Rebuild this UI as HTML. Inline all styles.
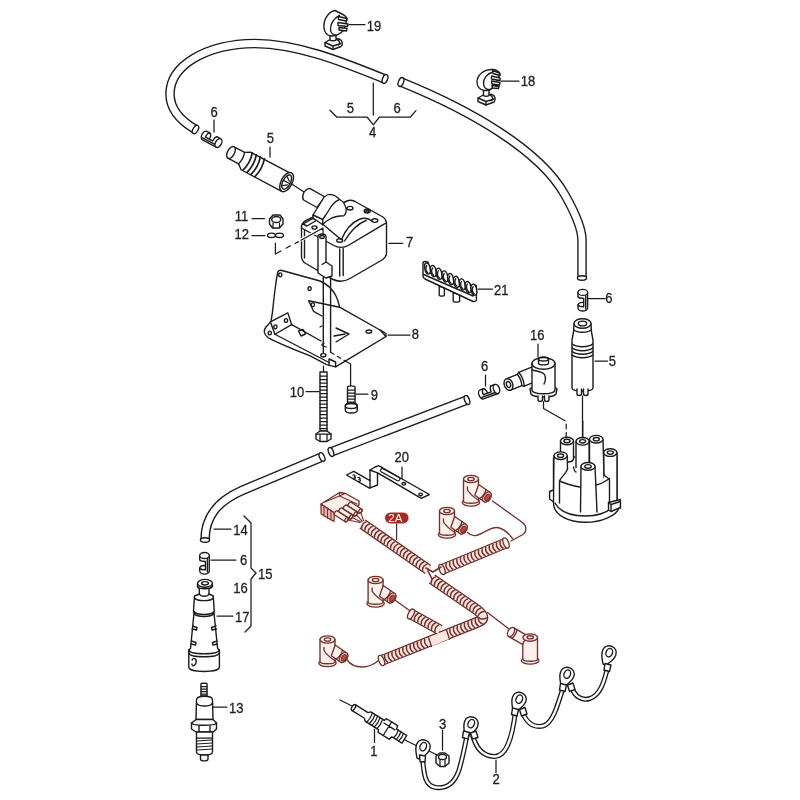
<!DOCTYPE html>
<html><head><meta charset="utf-8">
<style>
html,body{margin:0;padding:0;background:#fff;width:800px;height:800px;overflow:hidden}
svg{display:block;will-change:transform}
text{font-family:"Liberation Sans",sans-serif;font-size:14px;fill:#1e1e1e;stroke:#1e1e1e;stroke-width:0.3}
.k{fill:none;stroke:#1c1c1c;stroke-width:1.4;stroke-linecap:round;stroke-linejoin:round}
.w{fill:#fff;stroke:#1c1c1c;stroke-width:1.4;stroke-linecap:round;stroke-linejoin:round}
.t{fill:none;stroke:#1c1c1c;stroke-width:1.25;stroke-linecap:round;stroke-linejoin:round}
.cb{fill:none;stroke:#1c1c1c;stroke-width:9.6;stroke-linecap:butt;stroke-linejoin:round}
.cw{fill:none;stroke:#fff;stroke-width:6.8;stroke-linecap:butt;stroke-linejoin:round}
.r{fill:none;stroke:#74302a;stroke-width:1.35;stroke-linecap:round;stroke-linejoin:round}
.rw{fill:#fdf0ed;stroke:#74302a;stroke-width:1.35;stroke-linecap:round;stroke-linejoin:round}
</style></head><body>
<svg width="800" height="800" viewBox="0 0 800 800">
<defs>
<g id="clip6">
<path d="M-4.8 0 V15.6 A4.8 3 0 0 0 4.8 15.6 V0 Z" fill="#fff"/>
<path class="k" d="M4.8 0 V15.6 A4.8 3 0 0 1 -4.8 15.6 V12.6 M-4.8 0 V4.4"/>
<ellipse class="w" cx="0" cy="0" rx="4.8" ry="3"/>
<path class="k" d="M-4.6 4.6 C-3.6 5.8,-0.8 6,0.9 6 V14.4 C-1.3 14.4,-3.8 14,-4.6 13 M-4.8 12.6 C-4.3 10.3,-1.8 9.8,0.9 10 M2.9 3 V16.6"/>
</g>
<g id="elb">
<ellipse class="rw" cx="0" cy="23.5" rx="8.7" ry="3.6"/>
<path class="rw" d="M-7.5 0 V22 C-7.5 25,7.5 25,7.5 22 V0 Z"/>
<ellipse class="rw" cx="0" cy="0" rx="7.5" ry="3.6"/>
<ellipse class="r" cx="0" cy="0" rx="3.2" ry="1.6"/>
<path class="r" d="M-3.5 8 V11 C-1 15,4 19,8 21.5"/>
<g transform="translate(16 18) rotate(35)">
<path class="rw" d="M-14 -5.5 H0 A3.5 5.5 0 0 1 0 5.5 H-11 Z"/>
<path class="r" d="M-5 -5.5 Q-3 0 -5 5.5"/>
<ellipse class="rw" cx="0" cy="0" rx="3.5" ry="5.5"/>
<ellipse cx="0.5" cy="0" rx="2.2" ry="3.6" fill="#c0463a" stroke="#74302a" stroke-width="1"/>
</g>
</g>
</defs>
<!-- CABLES -->
<g id="cables">
<path class="cb" d="M195.5 129.5 C181 121,170 110,170 94 C170 66,205 44,255 43.5 C300 44,345 63,385 79"/>
<path class="cw" d="M195.5 129.5 C181 121,170 110,170 94 C170 66,205 44,255 43.5 C300 44,345 63,385 79"/>
<ellipse class="w" cx="195.5" cy="129.5" rx="2.5" ry="4.6" transform="rotate(30 195.5 129.5)"/>
<ellipse class="w" cx="385" cy="79" rx="2.5" ry="4.6" transform="rotate(20 385 79)"/>
<path class="cb" d="M401 82 C470 110,540 150,565 195 C578 218,582 230,582 240 V278"/>
<path class="cw" d="M401 82 C470 110,540 150,565 195 C578 218,582 230,582 240 V278"/>
<ellipse class="w" cx="401" cy="82" rx="2.5" ry="4.6" transform="rotate(22 401 82)"/>
<ellipse class="w" cx="582" cy="278" rx="4.6" ry="2.2"/>
<path class="cb" d="M331 452 L467 400"/>
<path class="cw" d="M331 452 L467 400"/>
<ellipse class="w" cx="331" cy="452" rx="2.4" ry="4.6" transform="rotate(-21 331 452)"/>
<ellipse class="w" cx="467" cy="400" rx="2.4" ry="4.6" transform="rotate(-21 467 400)"/>
<path class="cb" d="M322 457 L242 490.5 C218 501,205 516,205 540"/>
<path class="cw" d="M322 457 L242 490.5 C218 501,205 516,205 540"/>
<ellipse class="w" cx="322" cy="457" rx="2.4" ry="4.6" transform="rotate(-25 322 457)"/>
<ellipse class="w" cx="205" cy="540" rx="4.6" ry="2.3"/>
</g>
<!-- LABELS -->
<g id="labels">
<text transform="translate(366.81 30.50) scale(0.93 1)">19</text>
<text transform="translate(520.81 85.50) scale(0.93 1)">18</text>
<text transform="translate(346.83 113.00) scale(0.93 1)">5</text>
<text transform="translate(393.53 113.00) scale(0.93 1)">6</text>
<text transform="translate(369.03 136.60) scale(0.93 1)">4</text>
<text transform="translate(210.48 116.70) scale(0.93 1)">6</text>
<text transform="translate(266.63 142.70) scale(0.93 1)">5</text>
<text transform="translate(234.76 220.80) scale(0.93 1)">11</text>
<text transform="translate(234.56 238.60) scale(0.93 1)">12</text>
<text transform="translate(405.98 246.90) scale(0.93 1)">7</text>
<text transform="translate(494.06 295.00) scale(0.93 1)">21</text>
<text transform="translate(605.28 303.00) scale(0.93 1)">6</text>
<text transform="translate(530.06 339.50) scale(0.93 1)">16</text>
<text transform="translate(608.78 366.00) scale(0.93 1)">5</text>
<text transform="translate(411.78 338.50) scale(0.93 1)">8</text>
<text transform="translate(481.03 370.50) scale(0.93 1)">6</text>
<text transform="translate(289.76 396.90) scale(0.93 1)">10</text>
<text transform="translate(370.78 400.00) scale(0.93 1)">9</text>
<text transform="translate(394.56 462.00) scale(0.93 1)">20</text>
<text transform="translate(233.16 534.50) scale(0.93 1)">14</text>
<text transform="translate(239.88 564.50) scale(0.93 1)">6</text>
<text transform="translate(257.91 578.70) scale(0.93 1)">15</text>
<text transform="translate(233.16 593.00) scale(0.93 1)">16</text>
<text transform="translate(235.01 622.20) scale(0.93 1)">17</text>
<text transform="translate(229.11 712.50) scale(0.93 1)">13</text>
<text transform="translate(370.28 755.50) scale(0.93 1)">1</text>
<text transform="translate(439.03 728.50) scale(0.93 1)">3</text>
<text transform="translate(492.53 783.80) scale(0.93 1)">2</text>
</g>
<g id="leaders" class="t">
<path d="M349 24.5H365M501 81H519M373.3 83V115M330 110.2L336.7 117H367L373.3 124.8L379.5 117H410.4L416 110.7"/>
<path d="M214 120V132M270 147V157M252 218.5H264.5M252 235.5H265M389 243.4H402.7M478 289H492.5M588 298.5H605M538 344V357M595 361H607.5M388 335H410M485.5 375V386"/>
<path d="M306 391.5H319M356 394H368M402 467V479M214 529H231M211 560H236M217 616H233M213 707H227M374.5 729V742.5M442.5 730V750M496 760V772.5"/>
<path d="M244 516L251 523V568L256 573L251 579V626L245 632"/>
</g>
<!-- CLIPS 19/18 -->
<g id="clip19">
<path class="w" d="M325 45 L325 42.5 L332 38.5 L339 39 C342.5 40,343.5 44.5,341 46.5 L333 49.5 L325 46 Z"/>
<path class="k" d="M325 42.5 L333 46 L341 43.5 M333 46 V49.5 M337 39.5 C340 41,340.5 44,338.5 45"/>
<path class="w" d="M330 34 V40 C331 41,335 41,336 40 V34 Z"/>
<path class="w" d="M335 10.5 C328 12,323 20,324 28 C324.5 32,327 35.5,331 36 C336 36.5,341 33,344 30 L347 19 C347 17,344 15,341 13.5 Z"/>
<path class="k" d="M339.5 15.5 C334 18,330 24,330.5 30 C331 33,333 35,336 35"/>
<path class="w" d="M338.5 16.5 L347 18.5 L346.5 21 L338.5 19.5 Z M338 22.5 L348 24 L347.5 26.5 L338 25.5 Z M339 27.5 L347 28.5 L346.5 31 L339 30 Z"/>
</g>
<g id="clip18">
<path class="w" d="M478 101 L478 98 L485 94 L492 94.5 C495.5 95.5,496 100,494 102 L486 105 L478 101.5 Z"/>
<path class="k" d="M478 98 L486 101.5 L494 99 M486 101.5 V105 M490 95 C493 96.5,493.5 99.5,491.5 100.5"/>
<path class="w" d="M483.5 89.5 V95.5 C484.5 96.5,488 96.5,489 95.5 V89.5 Z"/>
<path class="w" d="M493 69.5 C484 69,477 75,477 82 C477 86.5,480 90,484.5 90.5 C489 91,493 88,495 85 L500 74 C499 71.5,496.5 70,493 69.5 Z"/>
<path class="k" d="M493 72 C487 73.5,483 79,483.5 84 C484 87,486 89.5,489 89.5"/>
<path class="w" d="M492.5 70.5 L499.5 73 L500 75.5 L493 73.5 Z M491.5 76 L500 78 L500 80.5 L491.5 79 Z M491.5 81 L500 82.5 L499.5 85 L492 84 Z M492 85.5 L499 86.5 L498.5 88.5 L492.5 88 Z"/>
</g>
<!-- TOP-LEFT CLIP 6 + BOOT 5 -->
<use href="#clip6" transform="translate(218.5 143) rotate(118)"/>
<g transform="translate(231 152.5) rotate(28)">
<path class="w" d="M0 -6.5 H12 L17 -9.5 H63 V10.5 H17 L12 6.5 H0 Z"/>
<ellipse class="w" cx="0" cy="0" rx="3.5" ry="6.5"/>
<path class="k" d="M12 -6.5 Q14 0 12 6.5"/>
<path class="k" style="stroke-width:1.7" d="M19 -9.6 Q22 0 19 9.6 M23.5 -9.8 Q26.5 0 23.5 9.8 M28 -9.9 Q31 0 28 9.9 M32.5 -10 Q35.5 0 32.5 10"/>
<ellipse class="w" cx="63" cy="0" rx="5.5" ry="10.5"/>
<ellipse class="k" cx="63" cy="0" rx="3.8" ry="7.8"/>
<path class="t" d="M61 -5 L65 -2 M61 5 L65 2 M60 0 H66"/>
</g>
<path class="t" d="M291 183.5 L304 192"/>
<!-- NUT 11, WASHER 12 -->
<g class="w">
<path d="M269.5 219 L273 215 L280 215 L283 219 L283 224 L279.5 228 L272.5 228 L269.5 224 Z"/>
<ellipse class="k" cx="276.2" cy="219.5" rx="4.5" ry="3"/>
<path class="t" d="M273 223V227.5M279.5 223V227.5"/>
<ellipse cx="271.5" cy="235.3" rx="4" ry="2.2"/>
<ellipse cx="279.5" cy="235.3" rx="4" ry="2.2"/>
</g>
<!-- COIL 7 -->
<g id="coil">
<path class="w" d="M301.5 228 C301 224,303 222,307 220 L347 201 C349 200,352 200,355 201.5 L383 217 C386 219,386.5 221,386.5 224 V253 C386.5 256,385 258,382 260 L350 278.5 C344 282,338 282,332 279 L305 263 C302 261,301.5 259,301.5 256 Z"/>
<path class="k" d="M301.5 228 L333 245 C338 248,344 248,349 245 L386 223"/>
<path class="k" d="M304.5 230 V258 M339.7 249 V276 M343.2 248.5 V275.5"/>
<path class="k" d="M303 224 L313 218.5 L317 220 L307 226 Z"/>
<path class="k" d="M322.5 224 C330 230,336 236,341.5 239.5 C345 231,351 223,359 219.5 C364 217.5,369 218.5,372 221 M344.5 241 C350 232,357 224,366 220.5"/>
<ellipse class="k" cx="350" cy="208.2" rx="3" ry="1.8"/>
<ellipse class="k" cx="367.2" cy="211" rx="3" ry="2"/>
<ellipse class="k" cx="367.2" cy="211" rx="1.5" ry="1"/>
<ellipse class="k" cx="374.8" cy="220.6" rx="3" ry="1.8"/>
<ellipse class="k" cx="339.7" cy="240.5" rx="3" ry="1.8"/>
<ellipse class="k" cx="314.5" cy="227.5" rx="2.5" ry="1.6"/>
<path class="w" d="M318 237 C318 235,320 234,322 234 C324 234,326 235,326 237 V262 L332 266 V276 L326 278 L318 273 Z"/>
<ellipse class="k" cx="322" cy="237" rx="2.2" ry="1.5"/>
<path class="k" d="M326 262 L322 264.5"/>
<path class="w" d="M309.6 188.4 L325 197 L317 207.5 L303.6 200 C301.5 197,303 190,309.6 188.4 Z"/>
<path class="w" d="M324.25 197 C326 195.5,328 194.4,330 194.4 C334 194.6,337 196.5,339.25 199.25 C341.5 200.5,343 201.5,343.75 203 C345.5 206,346.5 210,346 212 C345.5 214,344.5 215.25,343.75 215.75 C339 216,334 217,331.75 218 C327 220.5,324 223,322.75 224.75 L313 218 V215 Z"/>
<path class="k" d="M339.25 199.6 C334 202,331 206,329 210 C326 215,323 218.5,322.75 219.5 V224.75 M313 215 L322.75 219.5"/>
</g>
<path d="M300 240.3 L323 228" fill="none" stroke="#fff" stroke-width="3.2"/>
<path class="t" d="M275.4 243V254 L281 251 M286 248.2 L290.5 245.8 M295 243.5 L298.5 241.6 M301 240.3 L323 228 V234"/>
<!-- BRACKET 8 -->
<g id="br8">
<path class="w" d="M278 271.5 C279 270,280 270,282 270.5 L320 281 C327 284,333 290,336 296 C338 300,339 304,339.6 307.2 L380 330 L386 336.5 L335.6 366.9 L326.6 364.6 L309.7 355.6 C295 350,280 344,268.1 337.6 C263.5 334.5,263.5 330,266 327 C268 324.5,270 323,271 321 C273 312,273.5 300,275 290 C276 282,277 275,278 271.5 Z"/>
<path class="k" d="M274.9 334.25 L329 362.5"/>
<path class="k" d="M270.4 321.9 L287.8 312.9 L291.75 324.7 L274.9 334.25 Z"/>
<path class="k" d="M291.75 324.7 L321 341 M308.7 300.7 L339.6 307.2 M308.7 300.7 L313.6 311.3 L322 316"/>
<path class="k" d="M336 328 L349 334 L336 342 M334 336 L345 334"/>
<path class="k" d="M298.5 331 L303 329.5 L305.5 334 L301 336 Z"/>
<path class="k" d="M380.2 330 L386 333.5 V336.5 M329 359 L335.6 362 V366.9 M329 359 V364.5"/>
<ellipse class="k" cx="280.3" cy="274.8" rx="1.6" ry="1.9"/>
<ellipse class="k" cx="309.6" cy="288.6" rx="1.6" ry="1.9"/>
<ellipse class="k" cx="312.8" cy="304.8" rx="1.6" ry="1.9"/>
<ellipse class="k" cx="286" cy="320.5" rx="1.6" ry="1.9"/>
<ellipse class="k" cx="275.4" cy="326.8" rx="1.6" ry="1.9"/>
<ellipse class="k" cx="269.8" cy="333" rx="1.6" ry="1.9"/>
<ellipse class="k" cx="368.9" cy="331.6" rx="2.8" ry="1.6"/>
<ellipse class="k" cx="323.3" cy="355.2" rx="2.6" ry="1.6"/>
<path class="k" d="M323.3 277 V353 M330.6 277 V352.2"/>
<path class="t" d="M331 352.5 L334 354.3 M337.3 356.3 L340.6 358.3 M344 360.3 L350.6 364 V386"/>
<path class="t" d="M320 327 L322 326 M324 343 L322 344.5 M326 347 L322 345.5" />
</g>
<!-- BOLTS 10, 9 -->
<g id="bolts">
<path class="t" d="M323.5 366 V372"/>
<path class="w" d="M320 372 H327 V431 H320 Z"/>
<path class="t" d="M320 376H327M320 379.5H327M320 383H327M320 386.5H327M320 390H327M320 393.5H327M320 397H327M320 400.5H327M320 404H327M320 407.5H327M320 411H327M320 414.5H327M320 418H327M320 421.5H327M320 425H327M320 428.5H327"/>
<path class="w" d="M316 434 L320 431 H327 L331 434 V439 L327 441.5 H320 L316 439 Z"/>
<path class="t" d="M320 434.5 V441 M327 434.5 V441 M316 434 H331"/>
<path class="w" d="M347.5 387 C347.5 385.5,355 385.5,355 387 V404 H347.5 Z"/>
<path class="t" d="M347.5 390H355M347.5 393H355M347.5 396H355M347.5 399H355M347.5 402H355"/>
<path class="w" d="M345.3 406 C345.3 403.5,348 403,351.3 403 C354.6 403,357.3 403.5,357.3 406 V410 C357.3 412.5,354.6 413,351.3 413 C348 413,345.3 412.5,345.3 410 Z"/>
<ellipse class="k" cx="351.3" cy="406" rx="6" ry="2.5"/>
</g>
<!-- COMB 21 -->
<g id="comb">
<path class="w" d="M439.2 286 V295 C439.2 296.5,444.4 296.5,444.4 295 V288 Z M453.2 292 V301 C453.2 302.5,459.6 302.5,459.6 301 V295 Z"/>
<path class="w" d="M423 263 C423 261,428 261,428.4 263 V272 L473.2 292 V286 C473.2 284.5,476.4 284.5,476.4 286 V300 C476.4 301.5,474 302,472 301 L425 279 C423.5 278,423 277,423 276 Z"/>
<path class="k" d="M423.6 274.5 L473.2 296"/>
<ellipse class="w" cx="427.5" cy="268.5" rx="2.7" ry="5.6" transform="rotate(-12 427.5 268.5)"/>
<path class="k" d="M426.7 265.5 C425.3 267.5,425.5 271.0,427.8 272.7"/>
<ellipse class="w" cx="433.3" cy="271.1" rx="2.7" ry="5.6" transform="rotate(-12 433.3 271.1)"/>
<path class="k" d="M432.5 268.1 C431.1 270.1,431.3 273.6,433.6 275.3"/>
<ellipse class="w" cx="439.1" cy="273.8" rx="2.7" ry="5.6" transform="rotate(-12 439.1 273.8)"/>
<path class="k" d="M438.3 270.8 C436.9 272.8,437.1 276.3,439.4 278.0"/>
<ellipse class="w" cx="444.9" cy="276.4" rx="2.7" ry="5.6" transform="rotate(-12 444.9 276.4)"/>
<path class="k" d="M444.1 273.4 C442.7 275.4,442.9 278.9,445.2 280.6"/>
<ellipse class="w" cx="450.7" cy="279.1" rx="2.7" ry="5.6" transform="rotate(-12 450.7 279.1)"/>
<path class="k" d="M449.9 276.1 C448.5 278.1,448.7 281.6,451.0 283.3"/>
<ellipse class="w" cx="456.5" cy="281.8" rx="2.7" ry="5.6" transform="rotate(-12 456.5 281.8)"/>
<path class="k" d="M455.7 278.8 C454.3 280.8,454.5 284.2,456.8 285.9"/>
<ellipse class="w" cx="462.3" cy="284.4" rx="2.7" ry="5.6" transform="rotate(-12 462.3 284.4)"/>
<path class="k" d="M461.5 281.4 C460.1 283.4,460.3 286.9,462.6 288.6"/>
<ellipse class="w" cx="468.1" cy="287.1" rx="2.7" ry="5.6" transform="rotate(-12 468.1 287.1)"/>
<path class="k" d="M467.3 284.1 C465.9 286.1,466.1 289.6,468.4 291.2"/>
<ellipse class="w" cx="473.9" cy="289.7" rx="2.7" ry="5.6" transform="rotate(-12 473.9 289.7)"/>
<path class="k" d="M473.1 286.7 C471.7 288.7,471.9 292.2,474.2 293.9"/>
</g>
<!-- RIGHT CLIP 6 + BOOT 5 -->
<use href="#clip6" transform="translate(582.8 292.4)"/>
<g id="boot5r">
<path class="w" d="M574 324 C574 318,591 318,591 324 L591.5 332 L593 340 V388 C593 392,572 392,572 388 V340 L573.5 332 Z"/>
<ellipse class="w" cx="582.5" cy="323.5" rx="8.5" ry="4.8"/>
<ellipse class="k" cx="582.5" cy="323.5" rx="4.2" ry="2.4"/>
<path class="k" d="M574 330 C577 333,588 333,591 330"/>
<path class="k" style="stroke-width:1.5" d="M572.3 344 C576 347.5,589 347.5,592.7 344 M572.3 348 C576 351.5,589 351.5,592.7 348 M572.3 351.5 C576 355,589 355,592.7 351.5 M572.3 355 C576 358.5,589 358.5,592.7 355"/>
<path class="w" d="M577 389 V394 C577 396,581.5 396,581.5 394 V389 M583.5 389 V394 C583.5 396,588 396,588 394 V389"/>
<path class="t" d="M582.5 396 V438"/>
</g>
<!-- ELBOW 16 + CLIP 6 middle -->
<g id="elbow16">
<use href="#clip6" transform="translate(496.5 389) rotate(70)"/>
<g transform="translate(508.5 384.5) rotate(-22)">
<path class="w" d="M0 -6 H12 L14 -7.5 H34 V7.5 H14 L12 6 H0 Z"/>
<ellipse class="w" cx="0" cy="0" rx="4.2" ry="6"/>
<ellipse class="k" cx="0" cy="0" rx="2" ry="3"/>
<path class="k" d="M12 -6 Q14 0 12 6 M14 -7.5 Q16.5 0 14 7.5"/>
</g>
<path class="w" d="M530 389 C531 386,556 386,557 389 L556 394 C553 398,534 398,531 394 Z"/>
<path class="w" d="M538 396 V399.5 C538 402,542.5 402,542.5 399.5 V396 M544.5 396 V399.5 C544.5 402,549 402,549 399.5 V396"/>
<path class="w" d="M532 364 C532 358,555 358,555 364 V390 C555 395,532 395,532 390 Z"/>
<ellipse class="w" cx="543.5" cy="363.5" rx="11.5" ry="5.8"/>
<path class="w" d="M538.5 359 C538.5 357,548.5 357,548.5 359 V363 C548.5 365.5,538.5 365.5,538.5 363 Z"/>
<ellipse class="k" cx="543.5" cy="359" rx="5" ry="2"/>
<path class="k" d="M532 370 C538 371,543 372,544.5 374.5 C546 377,545.5 382,544 384"/>
<path class="t" d="M543.5 401.5 V408.5 L565 420.8 M566.2 424.2 V428.8 M566.2 432.3 V439"/>
</g>
<!-- DISTRIBUTOR CAP -->
<g id="dist">
<path class="w" d="M553.5 502 L549.6 499 V491.5 L553.5 490 V458 L617 455 V499.8 L620.4 502.5 V508 L619 508 C617 515,602 522.3,585.3 522.3 C568 522.3,555 515,553.7 505.2 Z"/>
<path class="k" d="M555 503 C560 512,572 516,585.3 516 C598 516,610 512,616 503"/>

<g>
<rect x="560.5" y="441" width="13" height="38" fill="#fff"/>
<path class="k" d="M560.5 441 V470 M573.5 441 V459 C573 461,571 462,568 462"/>
<ellipse class="w" cx="567" cy="441" rx="6.5" ry="3.8"/>
<ellipse class="k" cx="567" cy="441" rx="3" ry="1.7"/>
<rect x="575.3" y="441" width="14.6" height="38" fill="#fff"/>
<path class="k" d="M576 441.5 V467.5 M589.2 441.5 V478"/>
<ellipse class="w" cx="582.6" cy="441.3" rx="6.6" ry="3.8"/>
<ellipse class="k" cx="582.6" cy="441.3" rx="3" ry="1.7"/>
<rect x="589.5" y="439" width="14" height="40" fill="#fff"/>
<path class="k" d="M589.5 439.5 V478 M603 439.5 L604 478"/>
<ellipse class="w" cx="596.3" cy="439.2" rx="6.8" ry="3.8"/>
<ellipse class="k" cx="596.3" cy="439.2" rx="3" ry="1.7"/>
</g>
<rect x="554" y="455.7" width="13.2" height="46" fill="#fff"/>
<path class="k" d="M554 455.7 L553.5 502 M567.2 455.7 L567.5 469"/>
<ellipse class="w" cx="560.6" cy="455.7" rx="6.6" ry="3.8"/>
<ellipse class="k" cx="560.6" cy="455.7" rx="3" ry="1.7"/>
<rect x="603.8" y="452.6" width="13.2" height="49" fill="#fff"/>
<path class="k" d="M603.8 452.6 L604 475 M617 452.6 V502"/>
<path class="k" d="M567.5 469 C566 474,561 477,559.5 481 V503 M559.5 481 C566 484,574 486,581 487.3 M604 475 C606 477,609 478,609.5 480 V502 M596 485 C601 484,606 481,609.5 478.5"/>
<path class="k" d="M573.5 467 C574 470,575 472,576 472"/>
<ellipse class="w" cx="610.3" cy="452.6" rx="6.6" ry="3.8"/>
<ellipse class="k" cx="610.3" cy="452.6" rx="3" ry="1.7"/>
<path d="M581 466.5 L580.5 512 C584 515,592 515,597 512 L595 466.5 Z" fill="#fff"/>
<path class="k" d="M581 466.5 L580.5 512 M595 466.5 L597 512"/>
<ellipse class="w" cx="588" cy="466.4" rx="7" ry="3.9"/>
<ellipse class="k" cx="588" cy="466.4" rx="3.2" ry="1.8"/>
<path class="w" d="M608.5 502.5 L620.4 499.5 V507.5 L611 511.5 L608.5 510 Z"/>
<path class="k" d="M611 504.5 V511.5 M608.5 502.5 L611 504.5 L620.4 501.5"/>
<path class="t" d="M582.8 421 V438"/>
</g>
<!-- BRACKET 20 -->
<g id="br20">
<path class="w" d="M346.5 475 L353.7 471.3 L370 480.6 V470 L375 467 L378.7 465.6 L429.4 494.5 L421.3 498.3 L377.5 472.8 V485 L369.4 488.1 Z"/>
<path class="k" d="M370 470 L377.5 472.8 M370 480.6 V488"/>
<path class="t" d="M381.5 472 L397 480.5 C399.5 481.5,401 479,399 477.5 L383.5 469 C381 468,379.5 470.5,381.5 472 Z"/>
<ellipse class="k" cx="403.8" cy="483.8" rx="1.8" ry="1.3"/>
<ellipse class="k" cx="420.6" cy="494.4" rx="1.8" ry="1.3"/>
<path class="t" d="M353 475 C355 474.5,356 476,354 477 C356 477,356 479,353.5 479 M358 477.5 C360 477,361 478.5,359 479.5 C361 479.5,361 481.5,358.5 481.5"/>
</g>
<!-- RED HARNESS -->
<g id="harness">
<path class="r" d="M492.5 501 L522.5 522.5 C527 526,527 532,522 535 L511 541"/>
<path class="r" d="M467.5 532.5 C470 535,473 536,476 535.5 C483 534,490 527,497 527.5 C502 528,507 531,512.5 538.5"/>
<path class="r" d="M395.5 600.5 L411 611.5"/>
<path class="r" d="M347 660 C350 664,354 667,362 667 C368 667,373 665,378 661"/>
<path class="r" d="M487.5 612.5 L509 629"/>
<g id="tubes">
<path d="M362.5 524 L428 569.5 M442 569.5 L506 543 M432 579 L475 608.5 C483 614,486 619,478 622 L381.5 660.5 M411 614 L440 630" fill="none" stroke="#6a2a25" stroke-width="11" stroke-linecap="butt" stroke-linejoin="round"/>
<path d="M362.5 524 L428 569.5 M442 569.5 L506 543 M432 579 L475 608.5 C483 614,486 619,478 622 L381.5 660.5 M411 614 L440 630" fill="none" stroke="#fde6e1" stroke-width="8.4" stroke-linecap="butt" stroke-linejoin="round"/>
<path d="M361.7 528.7Q361.5 523.3 366.6 521.6M364.9 530.9Q364.7 525.5 369.8 523.8M368.1 533.1Q367.9 527.8 373.0 526.1M371.3 535.3Q371.1 530.0 376.2 528.3M374.5 537.6Q374.3 532.2 379.4 530.5M377.7 539.8Q377.5 534.4 382.6 532.7M380.9 542.0Q380.7 536.7 385.8 535.0M384.1 544.2Q383.9 538.9 389.0 537.2M387.3 546.5Q387.1 541.1 392.2 539.4M390.5 548.7Q390.3 543.3 395.4 541.6M393.7 550.9Q393.5 545.6 398.6 543.9M396.9 553.1Q396.7 547.8 401.8 546.1M400.1 555.4Q400.0 550.0 405.0 548.3M403.3 557.6Q403.2 552.2 408.2 550.5M406.5 559.8Q406.4 554.5 411.4 552.8M409.7 562.0Q409.6 556.7 414.6 555.0M412.9 564.3Q412.8 558.9 417.8 557.2M416.1 566.5Q416.0 561.1 421.0 559.4M419.3 568.7Q419.2 563.4 424.3 561.7M422.5 570.9Q422.4 565.6 427.5 563.9M446.0 572.5Q441.4 569.8 442.7 564.6M449.6 571.0Q445.0 568.3 446.3 563.1M453.2 569.5Q448.6 566.8 449.9 561.6M456.8 568.0Q452.2 565.3 453.5 560.1M460.4 566.5Q455.8 563.8 457.1 558.6M464.0 565.1Q459.4 562.3 460.7 557.1M467.6 563.6Q463.0 560.8 464.3 555.6M471.2 562.1Q466.6 559.3 467.9 554.1M474.8 560.6Q470.2 557.8 471.5 552.6M478.4 559.1Q473.8 556.3 475.1 551.1M482.0 557.6Q477.4 554.8 478.7 549.7M485.6 556.1Q481.0 553.4 482.3 548.2M489.2 554.6Q484.6 551.9 485.9 546.7M492.8 553.1Q488.2 550.4 489.5 545.2M496.4 551.6Q491.8 548.9 493.1 543.7M500.0 550.1Q495.4 547.4 496.7 542.2M503.6 548.6Q499.0 545.9 500.3 540.7M431.2 583.7Q431.0 578.3 436.1 576.6M434.4 585.9Q434.2 580.5 439.3 578.8M437.6 588.1Q437.4 582.7 442.5 581.0M440.9 590.3Q440.7 584.9 445.7 583.2M444.1 592.5Q443.9 587.1 448.9 585.4M447.3 594.7Q447.1 589.4 452.2 587.6M450.5 596.9Q450.3 591.6 455.4 589.8M453.7 599.1Q453.5 593.8 458.6 592.0M456.9 601.3Q456.7 596.0 461.8 594.2M460.2 603.5Q460.0 598.2 465.0 596.4M463.4 605.7Q463.2 600.4 468.2 598.6M466.6 607.9Q466.4 602.6 471.5 600.9M469.8 610.2Q469.6 604.8 474.7 603.1M473.0 612.3Q472.8 607.0 477.9 605.3M475.7 614.5Q476.1 609.1 481.3 607.9M477.9 616.6Q479.3 611.4 484.7 611.4M478.4 617.4Q482.6 620.7 487.0 617.6M478.2 617.1Q478.0 622.5 483.1 624.2M475.6 618.3Q474.2 623.5 478.7 626.3M471.9 619.8Q470.6 625.0 475.1 627.8M468.3 621.2Q466.9 626.4 471.5 629.2M464.7 622.7Q463.3 627.9 467.9 630.7M461.1 624.1Q459.7 629.3 464.3 632.1M457.4 625.6Q456.1 630.8 460.6 633.6M453.8 627.0Q452.4 632.2 457.0 635.0M450.2 628.5Q448.8 633.6 453.4 636.4M424.8 638.6Q423.5 643.8 428.0 646.6M421.2 640.0Q419.8 645.2 424.4 648.0M417.6 641.5Q416.2 646.6 420.8 649.5M414.0 642.9Q412.6 648.1 417.2 650.9M410.4 644.4Q409.0 649.5 413.5 652.3M406.7 645.8Q405.4 651.0 409.9 653.8M403.1 647.2Q401.7 652.4 406.3 655.2M399.5 648.7Q398.1 653.9 402.7 656.7M395.9 650.1Q394.5 655.3 399.1 658.1M392.2 651.6Q390.9 656.8 395.4 659.6M388.6 653.0Q387.2 658.2 391.8 661.0M385.0 654.5Q383.6 659.7 388.2 662.5M411.1 619.0Q410.4 613.7 415.3 611.4M414.5 620.9Q413.8 615.5 418.7 613.3M417.9 622.7Q417.2 617.4 422.1 615.2M421.4 624.6Q420.6 619.3 425.5 617.1M424.8 626.5Q424.0 621.2 428.9 619.0M428.2 628.4Q427.5 623.1 432.3 620.9M431.6 630.3Q430.9 625.0 435.8 622.7M435.0 632.2Q434.3 626.8 439.2 624.6" fill="none" stroke="#74302a" stroke-width="1.5" stroke-linecap="butt"/>
<path d="M430 642.3 L448 634.8" fill="none" stroke="#fde6e1" stroke-width="8.4"/>
<path class="r" d="M428.5 637.5 L431.5 646.5 M446.5 630 L449.5 639"/>
<ellipse class="rw" cx="506" cy="543" rx="2.6" ry="5.4" transform="rotate(-22 506 543)"/>
<ellipse class="rw" cx="442" cy="569.5" rx="2.6" ry="5.4" transform="rotate(-22 442 569.5)"/>
<ellipse class="rw" cx="381.5" cy="660.5" rx="2.6" ry="5.4" transform="rotate(-22 381.5 660.5)"/>
<ellipse class="rw" cx="411" cy="614" rx="2.6" ry="5.4" transform="rotate(28 411 614)"/>
</g>
<path class="r" d="M426 568 L433 572 L441 567 M428 571 L432 579" style="stroke-width:1.6"/>
<use href="#elb" transform="translate(471 479)"/>
<use href="#elb" transform="translate(447 511)"/>
<use href="#elb" transform="translate(375.6 580)"/>
<use href="#elb" transform="translate(327.5 639.5)"/>
<g id="elbE">
<ellipse class="rw" cx="530.2" cy="660.5" rx="8.8" ry="3.6"/>
<path class="rw" d="M522.8 637.5 V659 C522.8 662,537.5 662,537.5 659 V637.5 Z"/>
<g transform="translate(511 632) rotate(30)">
<path class="rw" d="M0 -5 H16 V5 H0 Z"/>
<ellipse class="rw" cx="0" cy="0" rx="3" ry="5"/>
<path class="r" d="M4 -5 Q6 0 4 5"/>
</g>
<ellipse class="rw" cx="530.2" cy="637.5" rx="7.3" ry="3.7"/>
<ellipse class="r" cx="530.2" cy="637.3" rx="3.2" ry="1.6"/>
</g>
<!-- connector -->
<g id="conn">
<path class="r" style="stroke-width:1.1" d="M346.5 519.8 L360.0 522.5 M351.1 516.9 L361.2 521.9 M355.7 514.0 L362.4 521.3 M360.3 511.1 L363.6 520.7"/>
<path class="rw" d="M321 504 L339.5 492.5 L345.5 493.5 L359 501 L359 505 L341 515.5 L334.5 513 Z"/>
<path class="r" style="stroke-width:1.1" d="M325 502 L344 494 M334.5 513 L353 502 M339.5 492.5 L339.5 496 L357 504"/>
<path d="M321 504 L334.5 513 L334 521.5 L321 514 Z" fill="#eeb3a8" stroke="#74302a" stroke-width="1.2" stroke-linejoin="round"/>
<path class="r" style="stroke-width:1" d="M324 507 V516 M327.5 509 V518.5 M331 511 V520"/>
<g transform="translate(349.8 504.3) rotate(32.7)"><path class="rw" d="M0 -2.4 H12.5 A1.4 2.4 0 0 1 12.5 2.4 H0 A1.4 2.4 0 0 1 0 -2.4 Z"/><ellipse class="r" cx="12.5" cy="0" rx="1.4" ry="2.4"/></g>
<g transform="translate(345.2 507.2) rotate(32.7)"><path class="rw" d="M0 -2.4 H12.5 A1.4 2.4 0 0 1 12.5 2.4 H0 A1.4 2.4 0 0 1 0 -2.4 Z"/><ellipse class="r" cx="12.5" cy="0" rx="1.4" ry="2.4"/></g>
<g transform="translate(340.6 510.1) rotate(32.7)"><path class="rw" d="M0 -2.4 H12.5 A1.4 2.4 0 0 1 12.5 2.4 H0 A1.4 2.4 0 0 1 0 -2.4 Z"/><ellipse class="r" cx="12.5" cy="0" rx="1.4" ry="2.4"/></g>
<g transform="translate(336.0 513.0) rotate(32.7)"><path class="rw" d="M0 -2.4 H12.5 A1.4 2.4 0 0 1 12.5 2.4 H0 A1.4 2.4 0 0 1 0 -2.4 Z"/><ellipse class="r" cx="12.5" cy="0" rx="1.4" ry="2.4"/></g>
</g>
<!-- 2A tag -->
<rect x="385" y="512.4" width="23.6" height="11" rx="5.5" fill="#a8291f"/>
<text x="388.3" y="522" style="font-size:11.5px;fill:#fff;stroke:none">2A</text>
<path d="M396.6 523.4 V540" stroke="#333" stroke-width="1.2"/>
</g>
<!-- LEFT STACK -->
<g id="lstack">
<use href="#clip6" transform="translate(204.5 555.5)"/>
<g class="w">
<path d="M188.8 650 L190.5 648.5 L194 613 L193.5 611 L194.5 596 L199.3 594 V589 L197.5 586.5 V583.3 H212.4 V586.5 L209 589 V594 L213.3 596 L214.2 611 L214 613 L217.6 648.5 L219.4 650 V667 C219.4 673,188.8 673,188.8 667 Z"/>
<ellipse cx="205" cy="583.3" rx="7.4" ry="3.9"/>
<ellipse class="k" cx="205" cy="583.3" rx="3.4" ry="1.7"/>
<path class="k" d="M197.5 586.5 C199 589.5,211 589.5,212.4 586.5 M199.3 594 C201 597,207.5 597,209 594"/>
<path class="k" d="M194.5 598 C197 601.5,211 601.5,213.3 598 M194 611.5 C197 615.5,211 615.5,214.2 611.5 M194 613.5 C197 617.5,211 617.5,214 613.5"/>
<path class="k" d="M192.5 626 L197 627.5 L196.5 630 L192 629 M216 626 L211.5 627.5 L212 630 L216.5 629 M191.5 641 L196 642.5 L195.5 645 L191 644 M217 641 L212.5 642.5 L213 645 L217.5 644"/>
<path class="k" d="M188.8 650 C190 655,218 655,219.4 650 M188.8 653 C190 658,218 658,219.4 653"/>
<path class="k" d="M192 660 C194 657,197 659,196 663 C195 666,192 667,192 664"/>
</g>
<!-- SPARK PLUG 13 -->
<g class="w">
<path d="M201 684 C201 683,207 683,207 684 V696 H201 Z"/>
<path class="t" d="M201 686.5H207M201 689H207M201 691.5H207M201 694H207"/>
<path d="M196.5 700 C196.5 695,212.5 695,212.5 700 L213 719.5 H196 Z"/>
<path class="k" d="M196.5 703 C198 707,211 707,212.5 703"/>
<path d="M191.5 723 L196 719.5 H213 L216.5 723 V729 L213 732 H196 L191.5 729 Z"/>
<path class="k" d="M191.5 723 C193 726,215 726,216.5 723 M199 725.5 V732 M210 725.5 V732"/>
<path d="M196.5 732 H212.5 V752 C212.5 756,196.5 756,196.5 752 Z"/>
<path class="t" d="M196.5 738 H212.5 M196.5 741 L212.5 740 M196.5 744 L212.5 743 M196.5 747 L212.5 746 M196.5 750 L212.5 749"/>
<path d="M200.5 755 H208 V759 C208 761.5,200.5 761.5,200.5 759 Z"/>
</g>
</g>
<!-- SENSOR 1, NUT 3 -->
<g id="sensor">
<path class="t" d="M340 700 L352 706"/>
<g transform="translate(353.5 707.5) rotate(32)">
<path class="w" d="M0 -3.3 H15 L17 -5.5 H33 L34 -8 H47 L48 -4.5 H60 V4.5 H48 L47 8 H34 L33 5.5 H17 L15 3.3 H0 Z"/>
<ellipse class="w" cx="0" cy="0" rx="1.6" ry="3.3"/>
<path class="t" d="M19 -5.5 Q20.5 0 19 5.5 M22 -5.5 Q23.5 0 22 5.5 M25 -5.5 Q26.5 0 25 5.5 M28 -5.5 Q29.5 0 28 5.5 M31 -5.5 Q32.5 0 31 5.5 M40 -8 V8 M34 -3 H47 M50 -4.5 Q51.5 0 50 4.5 M53 -4.5 Q54.5 0 53 4.5 M56 -4.5 Q57.5 0 56 4.5"/>
</g>
<path class="t" d="M405 740 L416 745.5 M425 749 L437 755"/>
<path class="w" d="M436 756 L440 753 H445 L449 756 V763 L445 766.5 H440 L436 763 Z"/>
<ellipse class="k" cx="442.5" cy="757" rx="4" ry="2.6"/>
<path class="t" d="M440 759.5 V766 M445 759.5 V766"/>
</g>
<!-- GROUND STRAP 2 -->
<g id="strap">
<path d="M422.5 758 C424 775,425 786,436 787.5 C448 789,455 782,459 770 C463 757,465 745,467.5 733 M472.5 735 C476 748,482 756,494 756.5 C506 757,512 740,515.5 711 M522 711 C526 722,533 728,543 726 C552 724,557 708,563.5 686.5 M571 686.5 C575 697,582 701,590 698.5 C600 695,604 683,608 666" fill="none" stroke="#1c1c1c" stroke-width="5" stroke-linecap="butt"/>
<path d="M422.5 758 C424 775,425 786,436 787.5 C448 789,455 782,459 770 C463 757,465 745,467.5 733 M472.5 735 C476 748,482 756,494 756.5 C506 757,512 740,515.5 711 M522 711 C526 722,533 728,543 726 C552 724,557 708,563.5 686.5 M571 686.5 C575 697,582 701,590 698.5 C600 695,604 683,608 666" fill="none" stroke="#fff" stroke-width="2.3" stroke-linecap="butt"/>
<g class="w">
<g transform="translate(422.5 748.5) rotate(22)"><path d="M-7 -2 C-7 -11,7 -11,7 -2 C7 4,3 8,1.5 11 H-1.5 C-3 8,-7 4,-7 -2 Z"/><ellipse class="k" cx="0" cy="-2" rx="3.2" ry="4.3"/></g>
<g transform="translate(470.5 725.5) rotate(22)"><path d="M-7 -2 C-7 -11,7 -11,7 -2 C7 4,3 8,1.5 11 H-1.5 C-3 8,-7 4,-7 -2 Z"/><ellipse class="k" cx="0" cy="-2" rx="3.2" ry="4.3"/></g>
<g transform="translate(518.5 701) rotate(22)"><path d="M-7 -2 C-7 -11,7 -11,7 -2 C7 4,3 8,1.5 11 H-1.5 C-3 8,-7 4,-7 -2 Z"/><ellipse class="k" cx="0" cy="-2" rx="3.2" ry="4.3"/></g>
<g transform="translate(566.5 676) rotate(22)"><path d="M-7 -2 C-7 -11,7 -11,7 -2 C7 4,3 8,1.5 11 H-1.5 C-3 8,-7 4,-7 -2 Z"/><ellipse class="k" cx="0" cy="-2" rx="3.2" ry="4.3"/></g>
<g transform="translate(608.5 654.5) rotate(22)"><path d="M-7 -2 C-7 -11,7 -11,7 -2 C7 4,3 8,1.5 11 H-1.5 C-3 8,-7 4,-7 -2 Z"/><ellipse class="k" cx="0" cy="-2" rx="3.2" ry="4.3"/></g>
</g>
<g class="w"><path d="M419.5 755 L425.5 756 L425 762 L420 761.5 Z"/><path d="M463.5 731 L469.5 732.5 L468 739 L462.5 737.5 Z"/><path d="M470.5 733 L476 731 L478 737.5 L472.5 739 Z"/><path d="M512.5 708 L518.5 709.5 L517 716 L511.5 714.5 Z"/><path d="M519.5 709.5 L525 707.5 L527 714 L521.5 716 Z"/><path d="M560.5 683.5 L566.5 685 L565 691.5 L559.5 690 Z"/><path d="M567.5 685 L573 683 L575 689.5 L569.5 691.5 Z"/><path d="M605 663.5 L611 665 L609.5 671.5 L604 670 Z"/></g>
<path class="k" style="display:none" d="M420 757 L424 759 M465.5 733.5 L469 735.5 M513 710 L517 712 M561 685 L565 687 M605 665 L609 667 M470.5 734 L474 736 M519.5 710.5 L523 712.5 M568.5 686 L572 688"/>
</g>
</svg>
</body></html>
